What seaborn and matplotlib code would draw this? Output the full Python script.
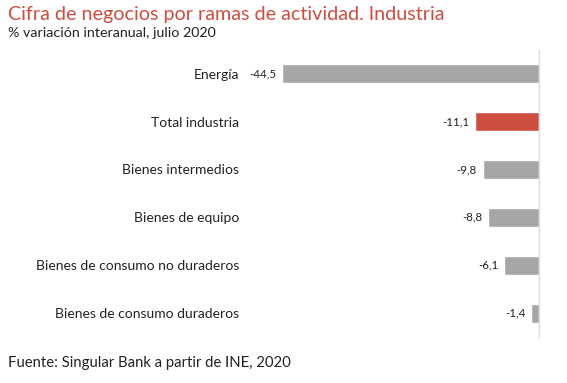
import matplotlib
matplotlib.use("Agg")
import matplotlib.pyplot as plt
import seaborn as sns
import pandas as pd

# -------------------------------
# Data
# -------------------------------
categories = ["Energía", "Total industria", "Bienes intermedios", "Bienes de equipo",
              "Bienes de consumo no duraderos", "Bienes de consumo duraderos"]
values = [-44.5, -11.1, -9.8, -8.8, -6.1, -1.4]
value_labels = ["-44,5", "-11,1", "-9,8", "-8,8", "-6,1", "-1,4"]
bar_colors = ["#a6a6a6", "#cc4e41", "#a6a6a6", "#a6a6a6", "#a6a6a6", "#a6a6a6"]

df = pd.DataFrame({"rama": categories, "valor": values})

sns.set_style("white")
plt.rcParams["font.family"] = ["Lato", "DejaVu Sans"]

fig = plt.figure(figsize=(5.67, 3.83), dpi=100)
ax = fig.add_axes([0.441, 0.12, 0.51, 0.75])

sns.barplot(data=df, x="valor", y="rama", hue="rama", palette=bar_colors,
            legend=False, width=0.4, ax=ax, saturation=1)

# value labels to the left of each bar
for i, (v, lab) in enumerate(zip(values, value_labels)):
    ax.text(v - 1.0, i, lab, ha="right", va="center", fontsize=8.3, color="#222222")

ax.set_xlim(-50, 0)
ax.set_xlabel("")
ax.set_ylabel("")
ax.set_xticks([])
ax.tick_params(axis="y", length=0, pad=8, labelsize=10, labelcolor="#222222")

for side in ["top", "left", "bottom"]:
    ax.spines[side].set_visible(False)
ax.spines["right"].set_color("#dddddd")
ax.spines["right"].set_linewidth(1.0)

# titles and footer
fig.text(0.014, 0.963, "Cifra de negocios por ramas de actividad. Industria",
         fontsize=14.2, color="#cc4e41", va="center", ha="left")
fig.text(0.014, 0.913, "% variación interanual, julio 2020",
         fontsize=10.3, color="#222222", va="center", ha="left")
fig.text(0.014, 0.052, "Fuente: Singular Bank a partir de INE, 2020",
         fontsize=10.7, color="#222222", va="center", ha="left")

fig.savefig("out.png", dpi=100)
